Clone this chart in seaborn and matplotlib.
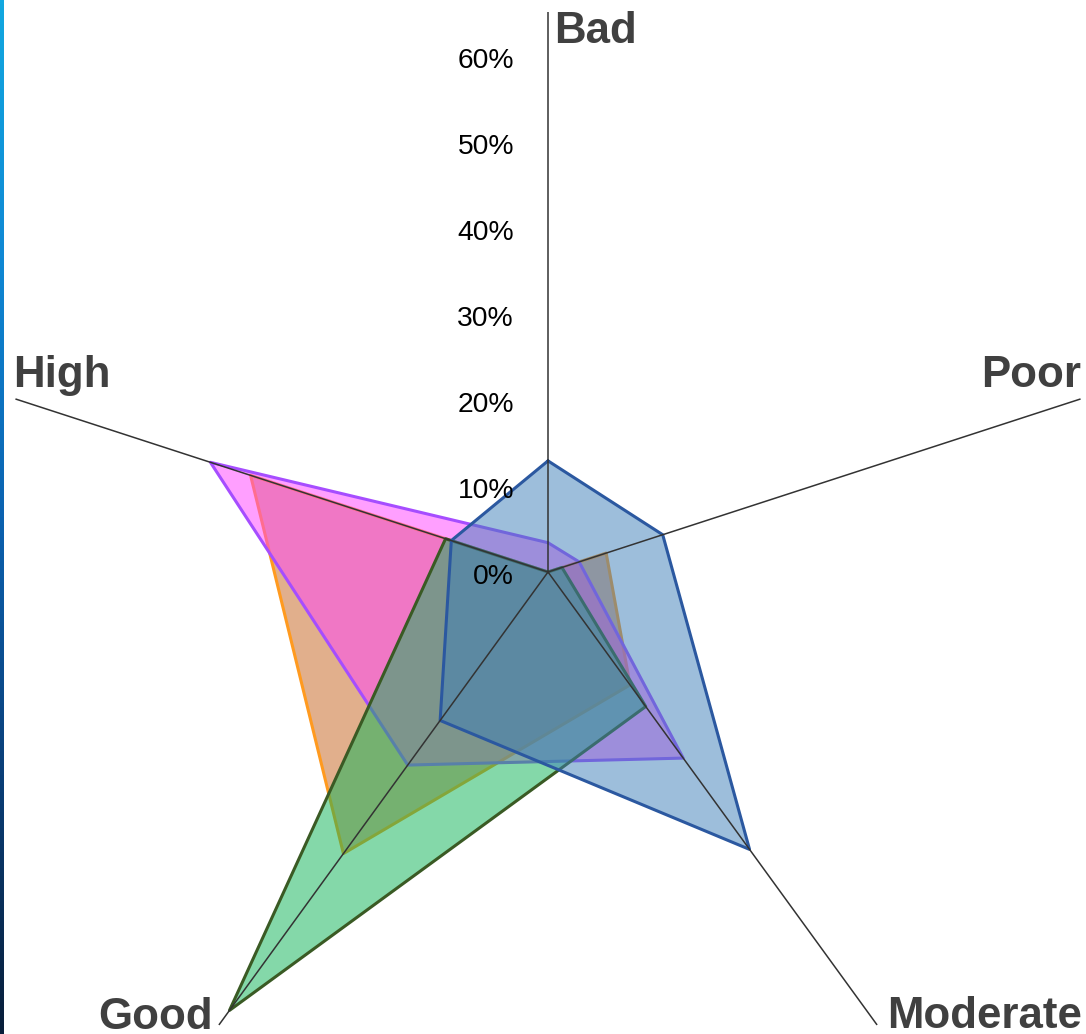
import numpy as np
import pandas as pd
import matplotlib
matplotlib.use("Agg")
import matplotlib.pyplot as plt
from matplotlib.colors import LinearSegmentedColormap
import seaborn as sns

# ---------------- data ----------------
categories = ["Bad", "Poor", "Moderate", "Good", "High"]
series_names = ["Series A", "Series B", "Series C", "Series D"]
series_a_vals = [0.0, 7.1, 16.2, 40.4, 36.3]     # orange
series_b_vals = [3.4, 3.8, 26.7, 27.7, 41.2]     # purple / magenta
series_c_vals = [0.0, 1.7, 19.3, 62.9, 12.5]     # green
series_d_vals = [12.9, 14.0, 39.8, 21.3, 11.8]   # blue
radial_ticks = [0, 10, 20, 30, 40, 50, 60]
radial_tick_labels = ["0%", "10%", "20%", "30%", "40%", "50%", "60%"]
r_max = 65

# ---------------- styles ----------------
edge_colors = ["#ff9a1f", "#a64dff", "#3a5a24", "#2b58a0"]
fill_colors = ["#c4601a", "#ff41ff", "#0bb355", "#3d7fb9"]

# long-form table (closed polygons)
n = len(categories)
angles = np.linspace(0, 2 * np.pi, n, endpoint=False)
rows = []
for name, vals in zip(series_names,
                      [series_a_vals, series_b_vals, series_c_vals, series_d_vals]):
    for k in range(n + 1):
        rows.append({"series": name, "theta": angles[k % n] if k < n else 2 * np.pi,
                     "value": vals[k % n], "order": k})
df = pd.DataFrame(rows)

sns.set_theme(style="white")
plt.rcParams["font.family"] = ["Liberation Sans", "DejaVu Sans"]

W, H, DPI = 1086, 1034, 100
fig = plt.figure(figsize=(W / DPI, H / DPI), dpi=DPI)
fig.patch.set_facecolor("white")

cx, cy = 548, 572          # centre in pixels (from top-left)
R = 560                    # pixel radius of r_max
ax = fig.add_axes([(cx - R) / W, (H - cy - R) / H, 2 * R / W, 2 * R / H],
                  projection="polar")
ax.set_theta_offset(np.pi / 2)
ax.set_theta_direction(-1)
ax.patch.set_alpha(0)
ax.grid(False)
ax.spines["polar"].set_visible(False)

for i, name in enumerate(series_names):
    sub = df[df["series"] == name].sort_values("order")
    z = 2 + 2 * i
    ax.fill(sub["theta"], sub["value"], color=fill_colors[i], alpha=0.5,
            lw=0, zorder=z)
    sns.lineplot(data=sub, x="theta", y="value", sort=False, estimator=None,
                 color=edge_colors[i], lw=2.2, ax=ax, legend=False, zorder=z + 1)

# spokes
for a in angles:
    ax.plot([a, a], [0, r_max], color="#333333", lw=1.1, zorder=20)

ax.set_ylim(0, r_max)
ax.set_xticks([])
ax.set_yticks([])
ax.set_xlabel("")
ax.set_ylabel("")

# radial tick labels along the "Bad" spoke
for v, lab in zip(radial_ticks, radial_tick_labels):
    ax.annotate(lab, xy=(0, v), xytext=(-34, -12.5), textcoords="offset pixels",
                ha="right", va="baseline", fontsize=20.3, color="black",
                annotation_clip=False, zorder=25)

# category labels
label_style = dict(fontsize=31.6, fontweight="bold", color="#404040",
                   annotation_clip=False, textcoords="offset pixels", zorder=25)
label_pos = {
    "Bad": ((6, -31), "left"),
    "Poor": ((1, 12), "right"),
    "Moderate": ((10, -3), "left"),
    "Good": ((-6, -4), "right"),
    "High": ((-2, 12), "left"),
}
for a, cat in zip(angles, categories):
    off, ha = label_pos[cat]
    ax.annotate(cat, xy=(a, r_max), xytext=off, ha=ha, va="baseline", **label_style)

# thin gradient strip on the left edge (background artefact of reference)
strip = fig.add_axes([0, 0, 4 / W, 1])
cmap = LinearSegmentedColormap.from_list(
    "strip", ["#12a8e0", "#0f88d4", "#0b62b0", "#0a3f78", "#081e3a"])
strip.imshow(np.linspace(0, 1, 256)[:, None], aspect="auto", cmap=cmap)
strip.axis("off")

fig.savefig("out.png", dpi=DPI, facecolor="white")
